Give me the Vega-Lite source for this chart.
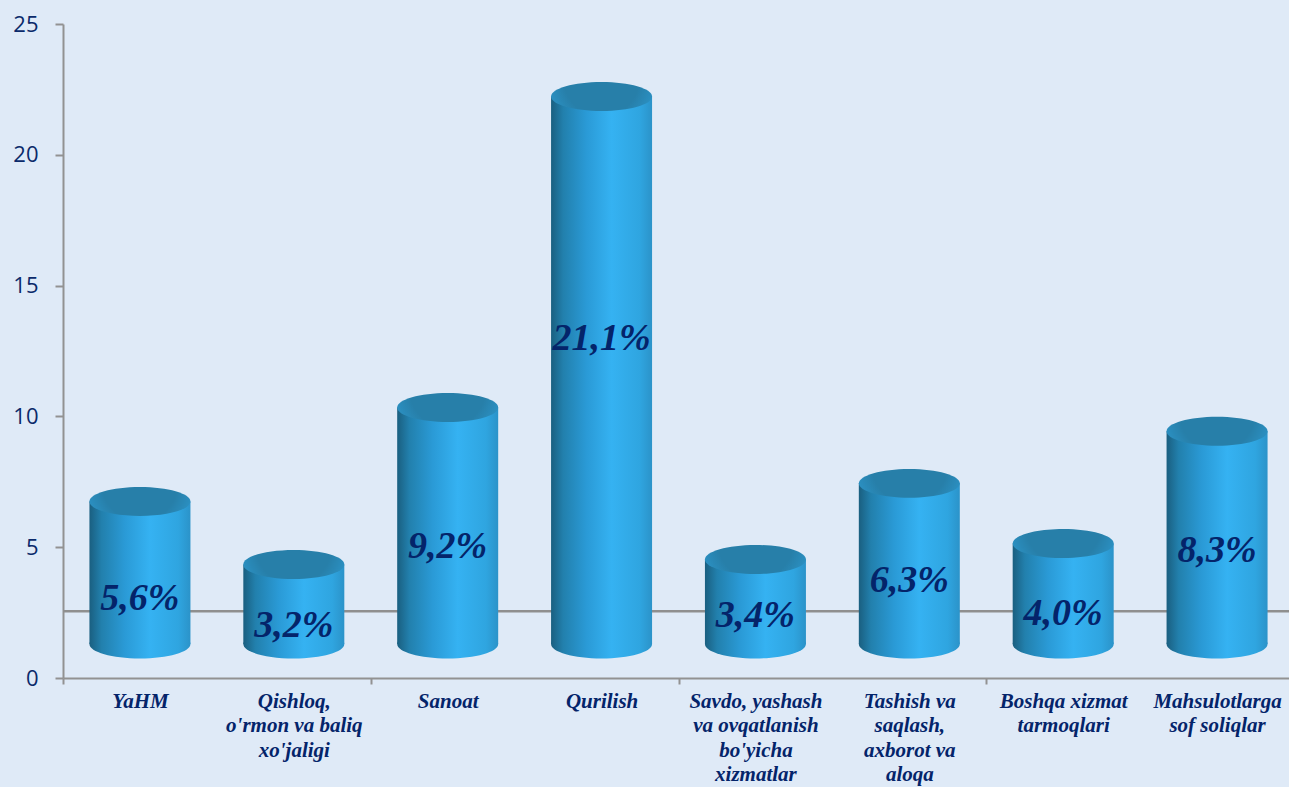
{
"$schema":"https://vega.github.io/schema/vega-lite/v6.json",
"width":1226,"height":654,
"autosize":{"type":"none"},
"padding":{"left":63,"top":24,"right":0,"bottom":109},
"background":"#dfeaf7",
"config":{"view":{"stroke":null}},
"data":{"values":[
{"category":"YaHM","share":5.6,"top":6.75,"base":1.3,"text":"5,6%","textAt":3.02},
{"category":"Qishloq,\no'rmon va baliq\nxo'jaligi","share":3.2,"top":4.34,"base":1.3,"text":"3,2%","textAt":2.0},
{"category":"Sanoat","share":9.2,"top":10.34,"base":1.3,"text":"9,2%","textAt":4.99},
{"category":"Qurilish","share":21.1,"top":22.23,"base":1.3,"text":"21,1%","textAt":12.94},
{"category":"Savdo, yashash\nva ovqatlanish\nbo'yicha\nxizmatlar","share":3.4,"top":4.53,"base":1.3,"text":"3,4%","textAt":2.37},
{"category":"Tashish va\nsaqlash,\naxborot va\naloqa","share":6.3,"top":7.44,"base":1.3,"text":"6,3%","textAt":3.69},
{"category":"Boshqa xizmat\ntarmoqlari","share":4.0,"top":5.14,"base":1.3,"text":"4,0%","textAt":2.45},
{"category":"Mahsulotlarga\nsof soliqlar","share":8.3,"top":9.43,"base":1.3,"text":"8,3%","textAt":4.85}
]},
"layer":[
{"data":{"values":[{"level":2.55}]},
 "mark":{"type":"rule","color":"#8f8f8f","strokeWidth":2.5},
 "encoding":{"y":{"field":"level","type":"quantitative","scale":{"domain":[0,25],"nice":false},"axis":{"title":null,"values":[0,5,10,15,20,25],"grid":false,"domainColor":"#929292","domainWidth":2,"tickColor":"#929292","tickWidth":2,"tickSize":8,"labelFont":"Open Sans","labelFontSize":22,"labelColor":"#0b2a6b","labelPadding":17}}}},
{"mark":{"type":"point","filled":true,"opacity":1,"strokeWidth":0,"size":10201,"shape":"M-1,0 A1,0.287 0 1 1 1,0 A1,0.287 0 1 1 -1,0 Z",
 "fill":{"gradient":"linear","x1":0,"y1":0,"x2":1,"y2":0,"stops":[{"offset":0,"color":"#1a5f80"},{"offset":0.12,"color":"#2280ad"},{"offset":0.35,"color":"#2a9ad6"},{"offset":0.6,"color":"#35b2f2"},{"offset":0.88,"color":"#2fa5e0"},{"offset":1,"color":"#2b93c9"}]}},
 "encoding":{"x":{"field":"category","type":"nominal","sort":null,"scale":{"paddingInner":0,"paddingOuter":0,"range":[0,1231]},
   "axis":{"title":null,"labelAngle":0,"labelAlign":"center","labelBaseline":"top","labelPadding":6,"labelFont":"Liberation Serif","labelFontStyle":"italic","labelFontWeight":"bold","labelFontSize":21,"labelColor":"#04246a","labelLineHeight":24.6,"labelLimit":300,"labelOverlap":false,"labelBound":false,"labelFlush":false,
    "labelExpr":"split(datum.label,'\\n')","tickBand":"extent","tickSize":6,"tickWidth":2,"tickColor":"#929292","domainColor":"#929292","domainWidth":2,
    "tickOpacity":{"condition":{"test":"datum.extra || test(/^(Qishloq|Qurilish|Tashish|Mahsulot)/,datum.value)","value":1},"value":0}}},
  "y":{"field":"base","type":"quantitative"}}},
{"mark":{"type":"bar","size":101,"fill":{"gradient":"linear","x1":0,"y1":0,"x2":1,"y2":0,"stops":[{"offset":0,"color":"#1a5f80"},{"offset":0.12,"color":"#2280ad"},{"offset":0.35,"color":"#2a9ad6"},{"offset":0.6,"color":"#35b2f2"},{"offset":0.88,"color":"#2fa5e0"},{"offset":1,"color":"#2b93c9"}]}},
 "encoding":{"x":{"field":"category","type":"nominal","sort":null},"y":{"field":"top","type":"quantitative"},"y2":{"field":"base"}}},
{"mark":{"type":"point","filled":true,"opacity":1,"strokeWidth":0,"size":10201,"shape":"M-1,0 A1,0.287 0 1 1 1,0 A1,0.287 0 1 1 -1,0 Z",
 "fill":{"gradient":"radial","x1":0.5,"y1":0.32,"r1":0,"x2":0.5,"y2":0.32,"r2":0.68,"stops":[{"offset":0,"color":"#277fa9"},{"offset":0.55,"color":"#277fa9"},{"offset":0.8,"color":"#2b90c2"},{"offset":1,"color":"#45bcf0"}]}},
 "encoding":{"x":{"field":"category","type":"nominal","sort":null},"y":{"field":"top","type":"quantitative"}}},
{"mark":{"type":"text","font":"Liberation Serif","fontStyle":"italic","fontWeight":"bold","fontSize":38,"color":"#04246a","align":"center","baseline":"middle"},
 "encoding":{"x":{"field":"category","type":"nominal","sort":null},"y":{"field":"textAt","type":"quantitative"},"text":{"field":"text"}}}
]
}
